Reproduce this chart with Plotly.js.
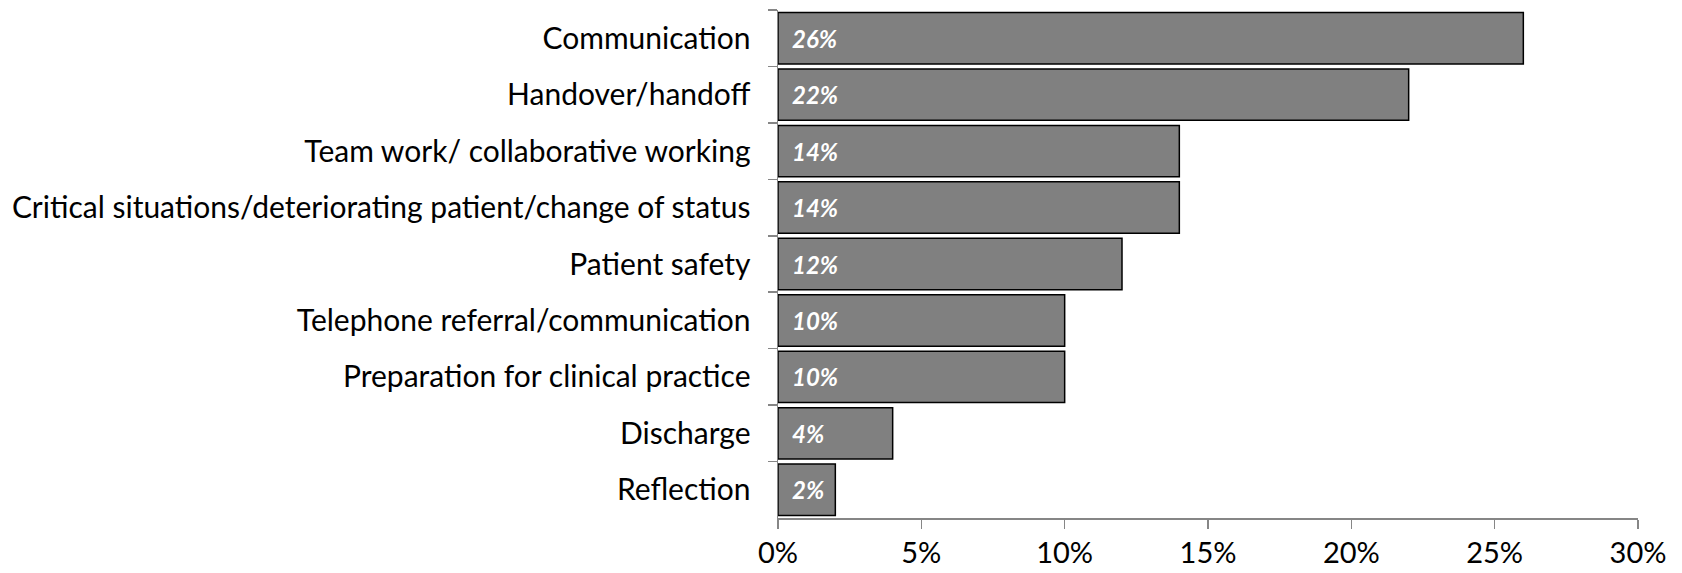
<!DOCTYPE html>
<html>
<head>
<meta charset="utf-8">
<script src="https://cdn.plot.ly/plotly-3.0.1.min.js"></script>
<style>html,body{margin:0;padding:0;background:#fff;}#chart{width:1682px;height:573px;}</style>
</head>
<body>
<div id="chart"></div>
<script>
const categories = [
  "Communication",
  "Handover/handoff",
  "Team work/ collaborative working",
  "Critical situations/deteriorating patient/change of status",
  "Patient safety",
  "Telephone referral/communication",
  "Preparation for clinical practice",
  "Discharge",
  "Reflection"
];
const values = [26, 22, 14, 14, 12, 10, 10, 4, 2];
const xTickVals = [0, 5, 10, 15, 20, 25, 30];
const xTickText = ["0%", "5%", "10%", "15%", "20%", "25%", "30%"];

const FONT = "Lato, 'Open Sans', sans-serif";

const trace = {
  type: "bar",
  orientation: "h",
  x: values,
  y: categories,
  marker: { color: "#808080", line: { color: "#000000", width: 1.5 } },
  hoverinfo: "none",
  cliponaxis: false
};

const annotations = categories.map((c, i) => ({
  x: 0, y: c, xref: "x", yref: "y",
  text: "<b><i>" + values[i] + "%</i></b>",
  showarrow: false, xanchor: "left", yanchor: "middle", xshift: 12,
  font: { family: FONT, size: 24, color: "#ffffff" }
}));

const layout = {
  width: 1682, height: 573,
  margin: { l: 778, r: 44, t: 10, b: 55 },
  paper_bgcolor: "#ffffff", plot_bgcolor: "#ffffff",
  showlegend: false,
  bargap: 0.09,
  xaxis: {
    range: [0, 30], tickvals: xTickVals, ticktext: xTickText,
    showgrid: false, zeroline: false,
    showline: true, linecolor: "#868686", linewidth: 1.5,
    ticks: "outside", ticklen: 9, tickwidth: 1.5, tickcolor: "#868686",
    tickfont: { family: FONT, size: 29, color: "#000000" },
    ticklabelstandoff: 0, fixedrange: true
  },
  yaxis: {
    autorange: "reversed", type: "category",
    showgrid: false, zeroline: false,
    showline: true, linecolor: "#868686", linewidth: 1.5,
    ticks: "outside", ticklen: 9, tickwidth: 1.5, tickcolor: "#868686",
    tickson: "boundaries",
    tickfont: { family: FONT, size: 30, color: "#000000" },
    ticklabelstandoff: 20, fixedrange: true
  },
  annotations: annotations
};

Plotly.newPlot("chart", [trace], layout, { displayModeBar: false, staticPlot: true });
</script>
</body>
</html>
